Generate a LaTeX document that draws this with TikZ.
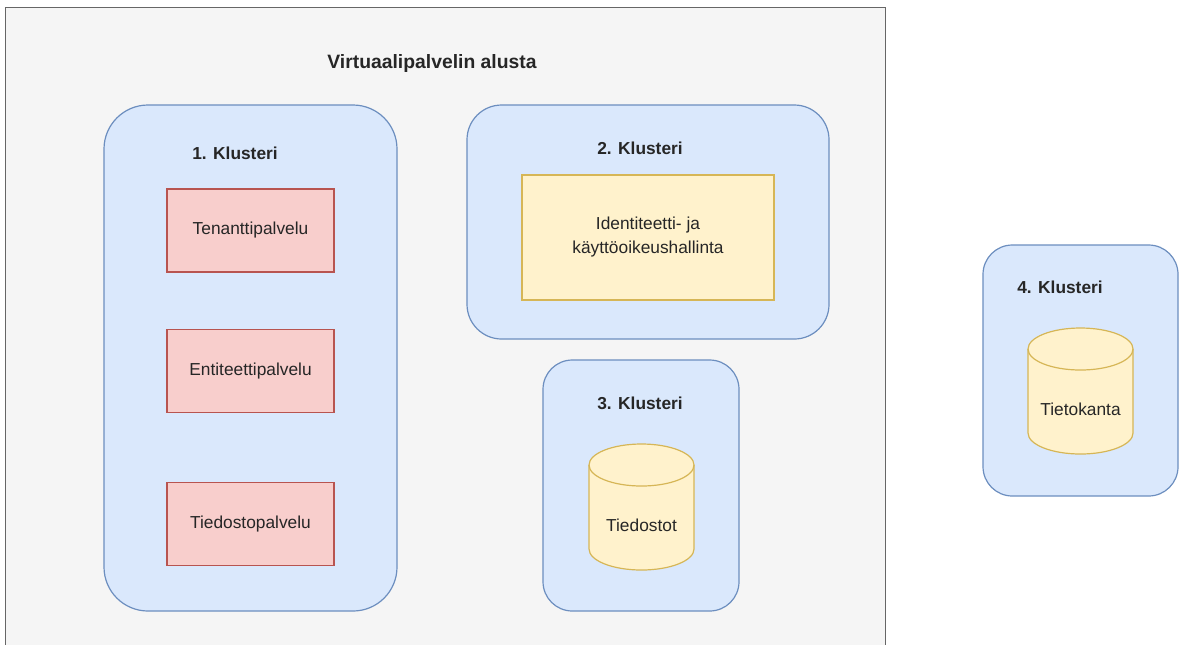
\documentclass[tikz,border=0pt]{standalone}
\usepackage{fontspec}
\setmainfont{Liberation Sans}
\usetikzlibrary{positioning}

\definecolor{hostfill}{HTML}{F5F5F5}
\definecolor{hostdraw}{HTML}{666666}
\definecolor{clusterfill}{HTML}{DAE8FC}
\definecolor{clusterdraw}{HTML}{6C8EBF}
\definecolor{servicefill}{HTML}{F8CECC}
\definecolor{servicedraw}{HTML}{B85450}
\definecolor{storefill}{HTML}{FFF2CC}
\definecolor{storedraw}{HTML}{D6B656}

\tikzset{
    label text/.style={font=\fontsize{13pt}{18pt}\selectfont, text=black!85},
    title/.style={label text, font=\fontsize{13pt}{18pt}\selectfont\bfseries},
    host/.style={draw=hostdraw, fill=hostfill, line width=0.9pt},
    cluster/.style={draw=clusterdraw, fill=clusterfill, line width=0.9pt, rounded corners=#1},
    service/.style={label text, draw=servicedraw, fill=servicefill, line width=0.9pt,
        minimum width=125.25pt, minimum height=62.25pt},
    store/.style={label text, draw=storedraw, fill=storefill, line width=0.9pt,
        minimum width=189pt, minimum height=93.75pt, align=center},
    drum/.style={draw=storedraw, fill=storefill, line width=0.9pt}
}

% database drum: centre, name, text
\newcommand\drum[3]{%
    \coordinate (#2c) at #1;
    \filldraw[drum] ([shift={(-39.375pt,31.5pt)}]#2c) -- ++(0,-63pt)
        arc[start angle=180, end angle=360, x radius=39.375pt, y radius=15.75pt]
        -- ++(0,63pt)
        arc[start angle=0, end angle=180, x radius=39.375pt, y radius=15.75pt] -- cycle;
    \draw[drum, fill=none] ([shift={(-39.375pt,31.5pt)}]#2c)
        arc[start angle=180, end angle=360, x radius=39.375pt, y radius=15.75pt];
    \node[label text] (#2) at ([yshift=-13.5pt]#2c) {#3};
}

\begin{document}
\begin{tikzpicture}[x=0.75pt, y=-0.75pt, node distance=42pt]
    \useasboundingbox (0,0) rectangle (1180,644);

    % virtual server platform
    \node[host, minimum width=660pt, minimum height=490pt, anchor=north west] (alusta) at (5,7) {};
    \node[title, font=\fontsize{14.5pt}{18pt}\selectfont\bfseries] (alustatitle) at (432,63) {Virtuaalipalvelin alusta};

    % cluster 1
    \node[cluster=33pt, minimum width=219.75pt, minimum height=379.5pt] (k1) at (250.5,358) {};
    \node[title] (k1title) at (235,153) {1. Klusteri};
    \node[service] (tenantti) at (250.5,230.5) {Tenanttipalvelu};
    \node[service] (entiteetti) [below=of tenantti] {Entiteettipalvelu};
    \node[service] (tiedosto) at (250.5,524) {Tiedostopalvelu};

    % cluster 2
    \node[cluster=26pt, minimum width=271.5pt, minimum height=175.5pt] (k2) at (648,222) {};
    \node[title] (k2title) at (640,148) {2. Klusteri};
    \node[store] (iam) at (648,237.5) {Identiteetti- ja\\käyttöoikeushallinta};

    % cluster 3
    \node[cluster=22pt, minimum width=147pt, minimum height=188.25pt] (k3) at (641,485.5) {};
    \node[title] (k3title) at (640,403) {3. Klusteri};
    \drum{(641.5,507)}{tiedostot}{Tiedostot}

    % cluster 4
    \node[cluster=22pt, minimum width=146.25pt, minimum height=188.25pt] (k4) at (1080.5,370.5) {};
    \node[title] (k4title) at (1060,287) {4. Klusteri};
    \drum{(1080.5,391)}{tietokanta}{Tietokanta}
\end{tikzpicture}
\end{document}
